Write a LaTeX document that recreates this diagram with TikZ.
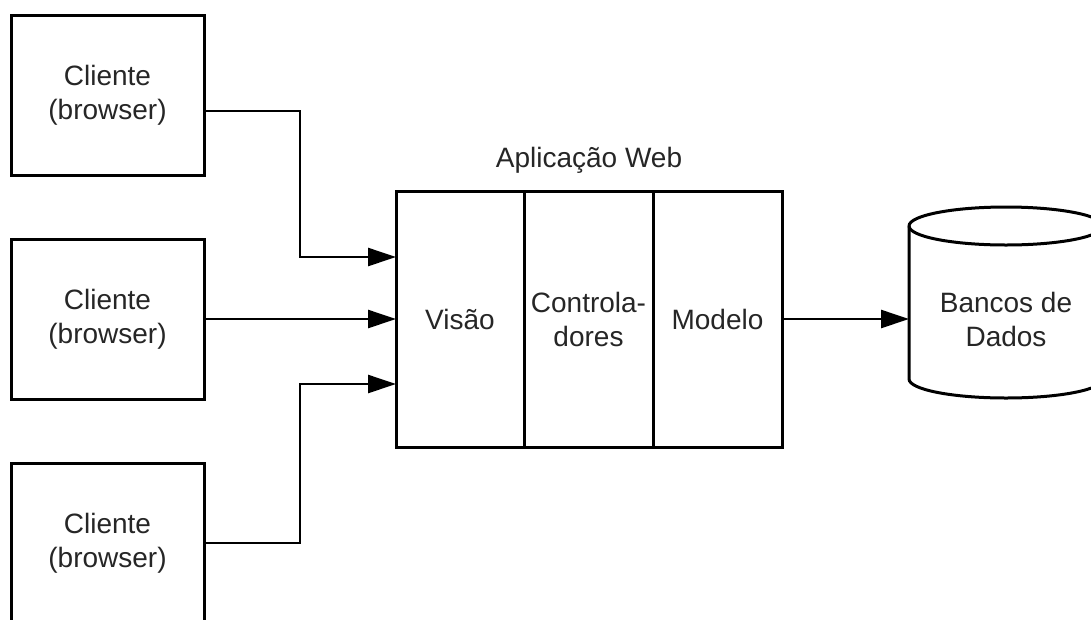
\documentclass[tikz,border=0pt]{standalone}
\usepackage{fontspec}
\setmainfont{Liberation Sans}
\usetikzlibrary{arrows.meta}
\begin{document}
\begin{tikzpicture}[x=1pt,y=-1pt,
  every node/.style={text=black!85, font=\fontsize{28}{34}\selectfont, align=center, inner sep=0pt},
  client/.style={draw=black, line width=3pt, minimum width=193pt, minimum height=160pt},
  layer/.style={draw=black, line width=3pt, minimum height=256pt, outer sep=0pt},
  link/.style={line width=2.5pt, -{Triangle[length=28pt,width=18pt]}},
  plain/.style={line width=2.5pt}]
\useasboundingbox (0,0) rectangle (1091,619);
\clip (0,0) rectangle (1091,619);

% client boxes
\node[client] (c1) at (107.5,95) {Cliente\\(browser)};
\node[client] (c2) at (107.5,319) {Cliente\\(browser)};
\node[client] (c3) at (107.5,543) {Cliente\\(browser)};

% web application with its three layers
\node[layer, minimum width=128pt] (visao) at (460,319) {Visão};
\node[layer, minimum width=129pt, anchor=west] (ctrl) at (visao.east) {Controla-\\dores};
\node[layer, minimum width=129pt, anchor=west] (modelo) at (ctrl.east) {Modelo};
\node (app) at (589,160) {Aplicação Web};

% database cylinder
\coordinate (dbw) at (909,319);
\draw[line width=3pt, fill=white]
  (909,226) -- (909,379) arc[start angle=180, end angle=360, x radius=97, y radius=-19]
  -- (1103,226) arc[start angle=0, end angle=180, x radius=97, y radius=-19] -- cycle;
\draw[line width=3pt] (909,226) arc[start angle=180, end angle=360, x radius=97, y radius=-19];
\node (db) at (1006,319) {Bancos de\\Dados};

% connectors
\draw[link] ([yshift=-16pt]c1.east) -| (300,257) -- (visao.west |- 0,257);
\draw[link] (c2.east) -- (visao.west);
\draw[link] (c3.east) -| (300,384) -- (visao.west |- 0,384);
\draw[link] (modelo.east) -- (dbw);
\end{tikzpicture}
\end{document}
